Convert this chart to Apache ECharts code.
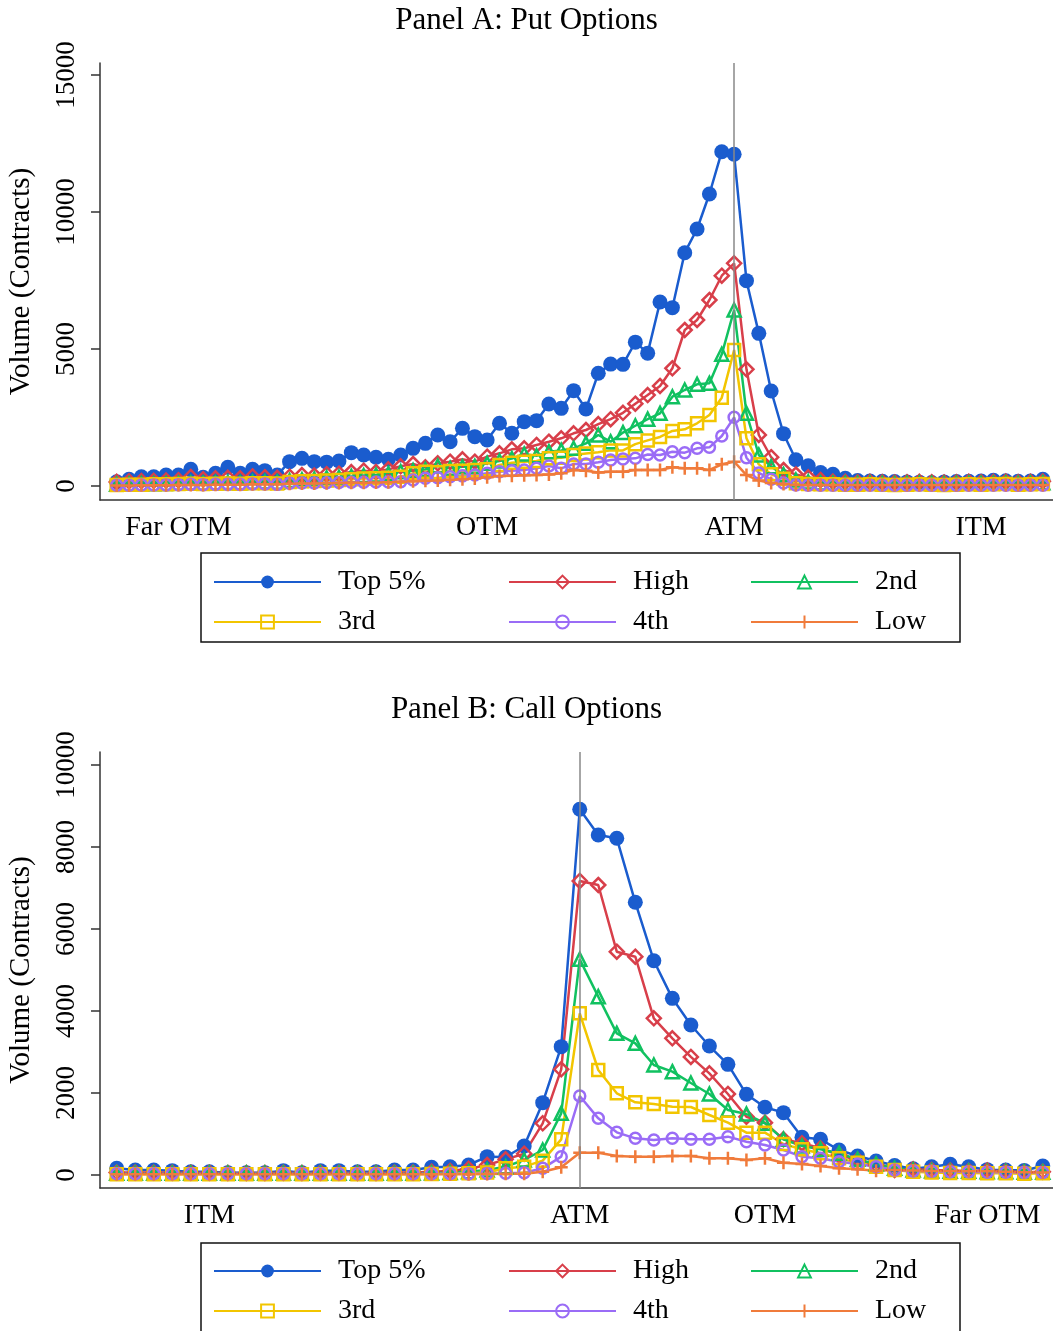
<!DOCTYPE html>
<html>
<head>
<meta charset="utf-8">
<script src="https://cdn.jsdelivr.net/npm/echarts@6/dist/echarts.min.js"></script>
<style>
  html, body { margin: 0; padding: 0; background: #fff; }
  #chart { width: 1053px; height: 1331px; }
</style>
</head>
<body>
<div id="chart"></div>
<script>
// Panel A: put options, 76 strike bins (index 0 = far OTM side)
const putTickPos = [5, 30, 50, 70]
const putTickLabels = ['Far OTM', 'OTM', 'ATM', 'ITM']
const putTop5 = [157,244,340,340,400,400,608,316,462,681, 462,608,560,400,888,1010,888,870,912,1217,
  1132,1047,974,1132,1375,1557,1862,1617,2105,1801, 1679,2288,1923,2348,2385,2993,2835,3480,2810,4113,
  4450,4440,5250,4850,6715,6510,8516,9380,10658,12203, 12107,7495,5572,3468,1910,960,740,490,430,280,
  200,180,170,160,150,140,130,150,160,170, 180,210,190,170,180,245]
const putHigh = [150,170,180,190,200,210,330,250,280,300, 280,350,320,300,340,400,380,430,450,510,
  560,510,608,720,803,681,828,888,974,888, 1071,1193,1339,1375,1497,1617,1740,1923,2044,2260,
  2440,2670,3005,3320,3650,4296,5694,6059,6789,7676, 8128,4259,1862,1050,584,420,316,219,160,150,
  140,150,140,130,140,150,140,130,140,150, 140,150,160,140,150,170]
const put2nd = [60,70,80,80,90,100,110,100,120,130, 120,140,150,140,200,230,250,300,320,350,
  380,400,450,520,560,600,730,650,700,720, 828,912,1000,1168,1100,1253,1300,1375,1557,1862,
  1617,1950,2200,2440,2652,3260,3504,3710,3747,4807, 6424,2652,1132,706,420,219,150,110,100,100,
  90,100,90,80,90,100,90,80,90,100, 90,100,110,90,100,120]
const put3rd = [40,50,50,60,60,70,80,70,80,90, 80,100,100,90,150,170,180,200,220,250,
  270,280,300,340,462,523,500,545,560,584, 608,766,852,888,910,1010,1030,1132,1190,1235,
  1300,1300,1527,1665,1790,2008,2068,2288,2592,3224, 4964,1740,790,430,262,100,70,60,60,50,
  50,60,50,40,50,60,50,40,50,60, 50,60,70,50,60,70]
const put4th = [30,30,40,40,40,50,60,50,60,60, 60,70,70,60,100,110,110,120,130,140,
  140,150,150,157,220,280,300,340,370,400, 462,523,560,584,645,730,645,803,803,870,
  950,990,1010,1150,1132,1253,1217,1375,1412,1825, 2507,1034,475,244,110,36,30,30,30,30,
  30,30,30,30,30,30,30,30,30,30, 30,30,30,30,30,30]
const putLow = [20,20,30,30,30,40,40,40,50,50, 50,60,60,60,80,90,90,100,110,120,
  120,130,140,157,170,190,200,230,250,270, 316,365,370,390,400,420,462,584,560,490,
  523,523,584,584,584,681,645,645,584,791, 888,400,200,110,70,40,40,40,40,40,
  40,40,40,40,40,40,40,40,40,40, 40,40,40,40,40,40]

// Panel B: call options, 51 strike bins
const callTickPos = [5, 25, 35, 47]
const callTickLabels = ['ITM', 'ATM', 'OTM', 'Far OTM']
const callTop5 = [163,122,122,106,81,81,57,57,57,106, 57,106,106,81,81,122,122,187,203,244,
  447,440,707,1764,3130,8919,8293,8212,6651,5227, 4309,3659,3146,2699,1968,1651,1521,919,870,610,
  463,340,232,150,203,260,203,130,122,112, 220]
const callHigh = [60,60,60,55,55,55,50,50,50,55, 50,55,55,50,50,60,60,80,100,150,
  244,382,520,1260,2578,7171,7073,5447,5325,3821, 3333,2880,2480,1976,1422,1276,870,773,651,488,
  366,244,122,140,120,110,100,110,90,70, 80]
const call2nd = [40,40,40,40,40,40,40,40,40,40, 40,40,40,40,40,40,40,50,60,80,
  120,203,366,610,1504,5260,4350,3455,3211,2683, 2520,2244,1976,1585,1488,1260,870,707,626,529,
  382,268,163,120,100,90,90,80,80,70, 70]
const call3rd = [20,20,20,20,20,20,20,20,20,20, 20,20,20,20,20,20,20,25,30,40,
  60,163,203,350,870,3943,2561,1992,1772,1732, 1667,1659,1463,1276,1033,1033,756,626,529,407,
  301,203,122,80,60,50,50,40,40,30, 40]
const call4th = [30,30,30,30,30,30,30,30,30,30, 30,30,30,30,30,30,30,30,30,30,
  35,41,57,163,447,1927,1382,1041,894,854, 894,874,870,935,813,732,610,447,407,325,
  268,203,122,100,90,80,80,70,70,60, 60]
const callLow = [20,20,20,20,20,20,20,20,20,20, 20,20,20,20,20,20,20,20,20,20,
  25,30,30,81,187,545,545,463,447,447, 463,463,407,407,366,407,301,268,220,163,
  138,106,122,110,100,100,90,90,80,70, 60]

const seriesNames = ['Top 5%', 'High', '2nd', '3rd', '4th', 'Low']
const seriesColors = ['#1a5cce', '#d83f4a', '#11c160', '#f2c500', '#9a6cf6', '#f07b3b']

const FONT = 'Liberation Serif'
const plusPath = 'path://M5,0V10M0,5H10'
const symbols = ['circle', 'diamond', 'triangle', 'rect', 'circle', plusPath]
const symbolSizes = [15, 14, 13, 12, 11, 13]

function makeSeries(values, k, idx) {
  const c = seriesColors[k]
  const s = {
    name: seriesNames[k],
    type: 'line',
    xAxisIndex: idx,
    yAxisIndex: idx,
    data: values.map((v, i) => [i, v]),
    symbol: symbols[k],
    symbolSize: symbolSizes[k],
    showAllSymbol: true,
    lineStyle: { color: c, width: 2.5 },
    itemStyle: k === 0
      ? { color: c }
      : { color: 'rgba(255,255,255,0)', borderColor: c, borderWidth: 2.5 },
    emphasis: { disabled: true },
  }
  if (k === 0) {
    // vertical line at the money
    s.markLine = {
      silent: true,
      symbol: 'none',
      label: { show: false },
      lineStyle: { color: '#888', width: 1.5, type: 'solid' },
      data: [{ xAxis: idx === 0 ? 50 : 25 }],
    }
  }
  return s
}

function xAxisCfg(idx, min, max, pos, labels) {
  return {
    type: 'value', gridIndex: idx, min: min, max: max,
    axisLine: { onZero: false, lineStyle: { color: '#333', width: 1.5 } },
    axisTick: { show: false },
    splitLine: { show: false },
    axisLabel: {
      customValues: pos,
      formatter: (v) => labels[pos.indexOf(v)] || '',
      fontFamily: FONT, fontSize: 28, color: '#000', margin: 14,
    },
  }
}

function yAxisCfg(idx, min, max, ticks) {
  return {
    type: 'value', gridIndex: idx, min: min, max: max,
    name: 'Volume (Contracts)',
    nameLocation: 'middle', nameGap: 64, nameRotate: 90,
    nameTextStyle: { fontFamily: FONT, fontSize: 29, color: '#000' },
    axisLine: { show: true, onZero: false, lineStyle: { color: '#333', width: 1.5 } },
    axisTick: { show: true, customValues: ticks, length: 9, lineStyle: { color: '#333', width: 1.5 } },
    splitLine: { show: false },
    axisLabel: {
      customValues: ticks, rotate: 90, margin: 20,
      formatter: (v) => String(v),
      fontFamily: FONT, fontSize: 27, color: '#000',
    },
  }
}

function legendCol(left, top, names) {
  return {
    orient: 'vertical', left: left, top: top, height: 120,
    padding: 0,
    itemWidth: 107, itemHeight: 16, itemGap: 12,
    selectedMode: false,
    data: names,
    textStyle: { fontFamily: FONT, fontSize: 28, color: '#000', padding: [0, 0, 0, 12] },
  }
}

const chart = echarts.init(document.getElementById('chart'))
const series = []
const putData = [putTop5, putHigh, put2nd, put3rd, put4th, putLow]
const callData = [callTop5, callHigh, call2nd, call3rd, call4th, callLow]
putData.forEach((d, k) => series.push(makeSeries(d, k, 0)))
callData.forEach((d, k) => series.push(makeSeries(d, k, 1)))

const option = {
  animation: false,
  backgroundColor: '#fff',
  title: [
    { text: 'Panel A: Put Options', left: 'center', top: 0,
      textStyle: { fontFamily: FONT, fontSize: 31, fontWeight: 'normal', color: '#000' } },
    { text: 'Panel B: Call Options', left: 'center', top: 689,
      textStyle: { fontFamily: FONT, fontSize: 31, fontWeight: 'normal', color: '#000' } },
  ],
  grid: [
    { left: 100, top: 63, width: 960, height: 437, outerBoundsMode: 'none' },
    { left: 100, top: 752, width: 960, height: 436, outerBoundsMode: 'none' },
  ],
  xAxis: [
    xAxisCfg(0, -1.352, 76.39, putTickPos, putTickLabels),
    xAxisCfg(1, -0.902, 50.93, callTickPos, callTickLabels),
  ],
  yAxis: [
    yAxisCfg(0, -511, 15440, [0, 5000, 10000, 15000]),
    yAxisCfg(1, -317, 10317, [0, 2000, 4000, 6000, 8000, 10000]),
  ],
  legend: [
    legendCol(213, 568, ['Top 5%', '3rd']),
    legendCol(508, 568, ['High', '4th']),
    legendCol(750, 568, ['2nd', 'Low']),
    legendCol(213, 1257, ['Top 5%', '3rd']),
    legendCol(508, 1257, ['High', '4th']),
    legendCol(750, 1257, ['2nd', 'Low']),
  ],
  graphic: [
    { type: 'rect', shape: { x: 201, y: 553, width: 759, height: 89 },
      style: { fill: 'none', stroke: '#111', lineWidth: 1.5 } },
    { type: 'rect', shape: { x: 201, y: 1243, width: 759, height: 95 },
      style: { fill: 'none', stroke: '#111', lineWidth: 1.5 } },
  ],
  series: series,
}
chart.setOption(option)
</script>
</body>
</html>
